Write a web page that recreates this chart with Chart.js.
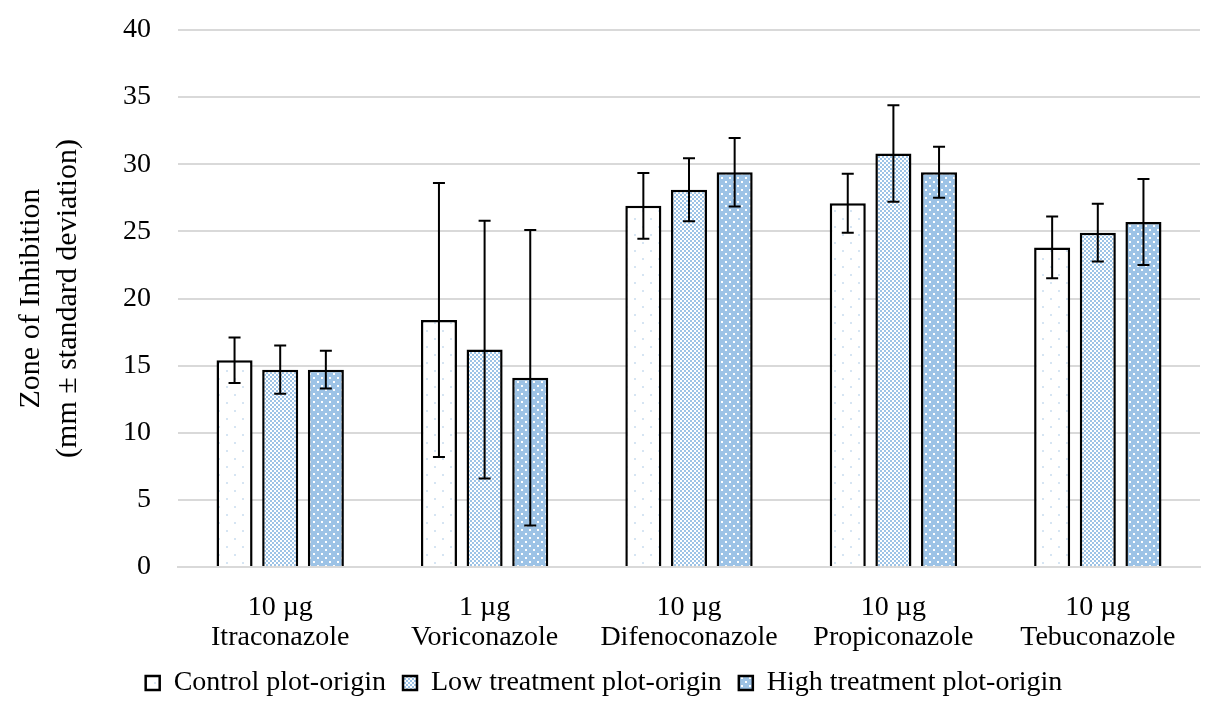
<!DOCTYPE html>
<html>
<head>
<meta charset="utf-8">
<script src="https://cdn.jsdelivr.net/npm/chart.js@4"></script>
<style>
  html, body { margin: 0; padding: 0; background: #fff; }
  #wrap { width: 1212px; height: 717px; }
</style>
</head>
<body>
<div id="wrap"><canvas id="myChart" width="1212" height="717"></canvas></div>
<script>
// Datos
const doses = ['10 µg', '1 µg', '10 µg', '10 µg', '10 µg'];
const fungicides = ['Itraconazole', 'Voriconazole', 'Difenoconazole', 'Propiconazole', 'Tebuconazole'];
const seriesNames = ['Control plot-origin', 'Low treatment plot-origin', 'High treatment plot-origin'];

const controlMean = [15.4, 18.4, 26.9, 27.1, 23.8];
const controlSd   = [1.7, 10.2, 2.45, 2.2, 2.3];
const lowMean     = [14.7, 16.2, 28.1, 30.8, 24.9];
const lowSd       = [1.8, 9.6, 2.35, 3.6, 2.15];
const highMean    = [14.7, 14.1, 29.4, 29.4, 25.7];
const highSd      = [1.4, 11.0, 2.55, 1.9, 3.2];

const yTicks = [0, 5, 10, 15, 20, 25, 30, 35, 40];

const BLUE = '#9dc3e6';
const FONT = "'Liberation Serif', 'Times New Roman', serif";

// Patrones de relleno
function makePattern(size, draw) {
    const c = document.createElement('canvas');
    c.width = size; c.height = size;
    const g = c.getContext('2d');
    draw(g);
    return document.getElementById('myChart').getContext('2d').createPattern(c, 'repeat');
}

const controlFill = makePattern(16, g => {
    g.fillStyle = '#ffffff'; g.fillRect(0, 0, 16, 16);
    g.fillStyle = '#d6e5f3';
    g.fillRect(2, 2, 2, 2);
    g.fillRect(10, 10, 2, 2);
});
const lowFill = makePattern(4, g => {
    g.fillStyle = BLUE; g.fillRect(0, 0, 4, 4);
    g.fillStyle = '#ffffff';
    g.fillRect(0, 0, 2, 2);
    g.fillRect(2, 2, 2, 2);
});
const highFill = makePattern(8, g => {
    g.fillStyle = BLUE; g.fillRect(0, 0, 8, 8);
    g.fillStyle = '#ffffff';
    g.fillRect(1, 1, 2, 2);
    g.fillRect(5, 5, 2, 2);
});

const errors = [controlSd, lowSd, highSd];

// Plugin para barras de error
const errorBars = {
    id: 'errorBars',
    afterDatasetsDraw(chart) {
        const ctx = chart.ctx;
        const y = chart.scales.y;
        ctx.save();
        ctx.strokeStyle = '#000';
        ctx.lineWidth = 2;
        chart.data.datasets.forEach((ds, i) => {
            const meta = chart.getDatasetMeta(i);
            meta.data.forEach((bar, j) => {
                const v = ds.data[j], e = errors[i][j];
                const top = y.getPixelForValue(v + e);
                const bot = y.getPixelForValue(v - e);
                const cap = 6;
                ctx.beginPath();
                ctx.moveTo(bar.x, top); ctx.lineTo(bar.x, bot);
                ctx.moveTo(bar.x - cap, top); ctx.lineTo(bar.x + cap, top);
                ctx.moveTo(bar.x - cap, bot); ctx.lineTo(bar.x + cap, bot);
                ctx.stroke();
            });
        });
        ctx.restore();
    }
};

const ctx = document.getElementById('myChart').getContext('2d');
const myChart = new Chart(ctx, {
    type: 'bar',
    data: {
        labels: doses.map((d, i) => [d, fungicides[i]]),
        datasets: [
            { label: seriesNames[0], data: controlMean, backgroundColor: controlFill },
            { label: seriesNames[1], data: lowMean, backgroundColor: lowFill },
            { label: seriesNames[2], data: highMean, backgroundColor: highFill }
        ].map(d => Object.assign(d, {
            borderColor: '#000',
            borderWidth: 2.5,
            categoryPercentage: 0.67,
            barPercentage: 0.79
        }))
    },
    options: {
        responsive: false,
        animation: false,
        layout: { padding: { left: 8, right: 12, top: 30, bottom: 10 } },
        plugins: {
            legend: {
                position: 'bottom',
                labels: {
                    font: { family: FONT, size: 28 },
                    color: '#000',
                    boxWidth: 14,
                    boxHeight: 14,
                    padding: 17
                }
            },
            tooltip: { enabled: false }
        },
        scales: {
            x: {
                grid: { display: false },
                border: { color: '#d9d9d9', width: 2 },
                ticks: {
                    font: { family: FONT, size: 28, lineHeight: 1.07 },
                    color: '#000',
                    maxRotation: 0,
                    padding: 18
                },
                afterFit: axis => { axis.height = 85; }
            },
            y: {
                min: 0,
                max: 40,
                afterBuildTicks: axis => { axis.ticks = yTicks.map(v => ({ value: v })); },
                afterFit: axis => { axis.paddingTop = 0; },
                grid: { color: '#d9d9d9', lineWidth: 2, drawTicks: false },
                border: { display: false },
                ticks: {
                    font: { family: FONT, size: 28 },
                    color: '#000',
                    padding: 27
                },
                title: {
                    display: true,
                    text: ['Zone of Inhibition', '(mm ± standard deviation)'],
                    font: { family: FONT, size: 30, lineHeight: 1.25 },
                    color: '#000',
                    padding: { bottom: 9 }
                }
            }
        }
    },
    plugins: [errorBars]
});
</script>
</body>
</html>
